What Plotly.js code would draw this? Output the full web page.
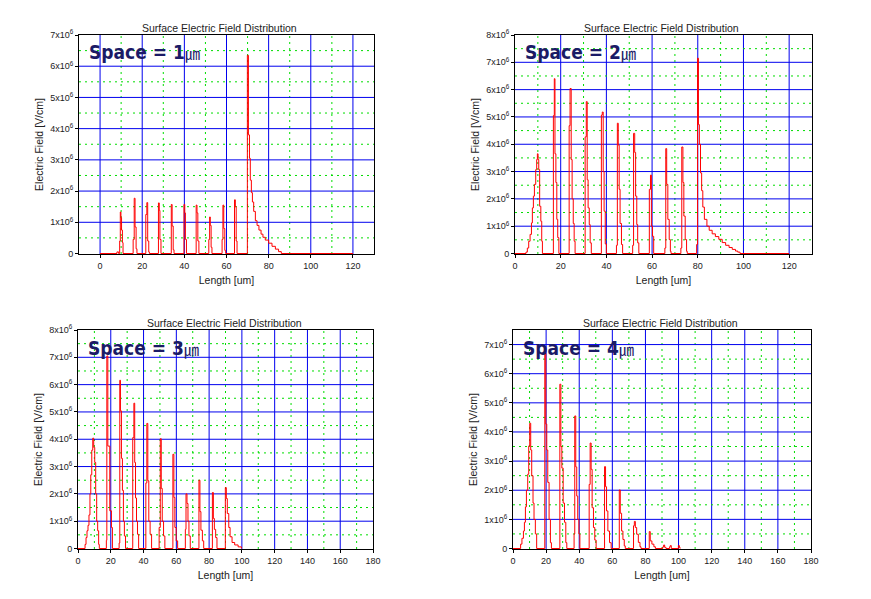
<!DOCTYPE html>
<html><head><meta charset="utf-8">
<script src="https://cdn.plot.ly/plotly-3.0.1.min.js"></script>
<style>html,body{margin:0;padding:0;background:#fff}#chart{width:871px;height:599px}</style>
</head><body><div id="chart"></div>
<script>
// ---------- DATA (Length in um, Electric field in units of 1e6 V/cm) ----------
const spaceLabels = ['1', '2', '3', '4'];
const chartTitle = 'Surface Electric Field Distribution';
const xTitle = 'Length [um]';
const yTitle = 'Electric Field [V/cm]';

// Space = 1 um
const s1x = [0, 8.0, 8.8, 9.3, 9.6, 9.9, 10.2, 10.6, 10.9,
  15.7, 16.2, 16.6, 17.1, 17.5,
  21.7, 22.2, 22.6, 23.1, 23.4,
  27.7, 28.1, 28.4, 28.9,
  33.8, 34.2, 34.7, 35.1,
  39.8, 40.2, 40.5, 41.0,
  45.6, 46.0, 46.4, 46.9,
  51.6, 52.0, 52.3, 52.7, 53.1,
  57.9, 58.3, 58.7, 59.2, 59.6,
  63.8, 64.2, 64.6, 65.0,
  69.9, 70.4, 70.9, 71.3, 71.8, 72.3, 72.9, 73.7, 74.5, 75.4, 76.4, 77.3, 78.4, 80.0, 81.6, 83.2, 84.7, 86.0, 120];
const s1y = [0, 0.05, 0, 0.4, 1.33, 1.15, 0.75, 0.35, 0,
  0.45, 1.77, 0.85, 0.15, 0,
  1.25, 1.63, 0.4, 0.05, 0,
  1.62, 1.38, 0.45, 0,
  1.57, 0.88, 0.12, 0,
  1.57, 1.3, 0.45, 0,
  1.55, 1.3, 0.4, 0,
  0.45, 1.17, 0.9, 0.2, 0,
  0.45, 1.55, 0.8, 0.1, 0,
  1.72, 1.5, 0.4, 0,
  6.35, 3.8, 3.05, 2.35, 1.95, 1.65, 1.35, 1.05, 0.9, 0.75, 0.62, 0.52, 0.43, 0.33, 0.23, 0.14, 0.06, 0, 0];

// Space = 2 um
const s2x = [0, 4.8, 5.4, 6.0, 6.6, 7.2, 7.6, 8.05, 8.5, 9.07, 9.5, 9.8, 10.1, 10.4, 10.8, 11.3, 11.7, 12.0,
  16.8, 17.2, 17.5, 17.9, 18.3, 18.7, 19.2,
  23.7, 24.1, 24.6, 25.0, 25.5, 25.9, 26.3,
  30.7, 31.2, 31.6, 32.0, 32.5, 32.9, 33.4,
  37.8, 38.2, 38.6, 39.0, 39.5, 40.0,
  44.4, 44.8, 45.2, 45.6, 46.0, 46.6, 47.1,
  51.5, 51.9, 52.4, 52.8, 53.3, 53.7, 54.2,
  58.8, 59.3, 59.7, 60.2, 60.7,
  65.6, 66.0, 66.4, 66.9, 67.5, 68.0, 68.3,
  72.6, 73.0, 73.5, 73.9, 74.5, 75.1, 75.4,
  79.5, 79.9, 80.3, 80.7, 81.2, 81.7, 82.2, 82.9, 84.0, 85.0, 86.3, 87.7, 89.2, 90.7, 92.2, 93.7, 95.1, 96.5, 97.5, 98.5, 120];
const s2y = [0, 0.05, 0.2, 0.45, 0.7, 1.12, 1.67, 2.1, 2.53, 3.07, 3.44, 3.65, 3.44, 3.07, 1.73, 1.18, 0.45, 0,
  5.05, 6.4, 3.65, 2.6, 1.25, 0.58, 0,
  4.68, 6.04, 3.44, 2.0, 1.1, 0.45, 0,
  4.27, 5.56, 2.7, 1.67, 1.06, 0.39, 0,
  5.07, 5.18, 3.0, 1.55, 0.35, 0,
  0.3, 4.77, 3.97, 2.35, 1.1, 0.33, 0,
  0.3, 4.4, 3.7, 2.1, 1.06, 0.39, 0,
  2.35, 2.87, 1.0, 0.63, 0,
  0.2, 3.84, 2.53, 1.25, 0.51, 0.08, 0,
  0.2, 3.9, 2.6, 1.37, 0.51, 0.08, 0,
  0.33, 7.15, 4.72, 4.0, 2.95, 2.3, 1.7, 1.25, 1.0, 0.85, 0.72, 0.62, 0.52, 0.4, 0.3, 0.22, 0.15, 0.09, 0.05, 0, 0];

// Space = 3 um
const s3x = [0, 4.3, 4.9, 5.5, 6.1, 6.7, 7.3, 7.8, 8.4, 9.0, 9.6, 10.2, 10.8, 11.4, 12.0, 12.6, 13.0,
  17.3, 17.6, 18.2, 19.4, 20.4, 21.0,
  25.1, 25.5, 25.9, 26.5, 27.1, 27.7, 28.3, 29.0,
  33.4, 34.1, 34.6, 35.1, 35.7, 36.3, 37.0,
  41.4, 42.0, 42.6, 43.2, 44.0, 44.9,
  49.5, 50.2, 50.8, 51.4, 52.2, 53.0,
  57.9, 58.5, 59.1, 59.9, 60.8,
  65.5, 65.9, 66.5, 67.1, 67.7, 68.5,
  73.8, 74.4, 75.0, 75.9, 76.7,
  82.0, 82.6, 83.2, 84.0, 84.8,
  89.9, 90.5, 91.1, 92.0, 92.8, 94.0, 95.6, 97.7, 99.7];
const s3y = [0, 0.15, 0.4, 0.65, 0.85, 1.23, 2.0, 2.7, 3.6, 4.04, 3.7, 3.15, 2.0, 1.0, 0.65, 0.15, 0,
  0.3, 7.05, 3.75, 1.38, 0.77, 0,
  0.2, 6.16, 5.04, 3.3, 2.13, 1.0, 0.46, 0,
  4.06, 5.32, 3.15, 1.85, 1.0, 0.52, 0,
  2.4, 4.58, 2.48, 1.0, 0.52, 0,
  0.77, 4.02, 2.2, 1.0, 0.46, 0,
  3.45, 1.87, 0.77, 0.28, 0,
  0.7, 2.0, 1.65, 1.0, 0.46, 0,
  2.5, 1.35, 0.67, 0.28, 0,
  2.05, 1.1, 0.7, 0.4, 0,
  2.23, 1.83, 1.28, 0.77, 0.43, 0.22, 0.13, 0.06, 0];

// Space = 4 um
const s4x = [0, 4.6, 5.4, 6.3, 6.9, 7.5, 8.1, 8.9, 9.5, 10.1, 10.7, 11.3, 12.1, 12.7, 13.5, 14.3,
  19.2, 19.8, 20.4, 21.0, 21.8, 22.6, 23.2,
  28.3, 28.9, 29.5, 30.3, 31.1, 31.9, 32.5,
  36.9, 37.3, 37.9, 38.5, 39.1, 39.8, 40.4,
  46.0, 46.6, 47.2, 47.8, 48.6, 49.4, 50.2,
  55.3, 55.9, 56.5, 57.3, 58.3, 59.3,
  64.2, 64.8, 65.6, 66.4, 67.2, 67.8,
  72.8, 73.3, 73.9, 74.7, 75.7, 76.7, 77.3,
  82.3, 82.9, 83.9, 85.1, 86.0,
  90.4, 91.0, 91.6, 92.4, 94.6, 95.0, 95.6, 99.9, 100.5, 101.0];
const s4y = [0, 0.15, 0.35, 0.6, 0.9, 1.43, 2.0, 2.55, 3.52, 4.3, 3.38, 2.5, 1.56, 1.0, 0.5, 0,
  6.7, 4.27, 3.38, 2.27, 1.0, 0.2, 0,
  5.64, 3.5, 2.76, 1.56, 0.9, 0.2, 0,
  0.5, 4.55, 2.8, 1.8, 1.0, 0.5, 0,
  2.2, 3.62, 2.72, 1.4, 0.72, 0.29, 0,
  2.81, 2.12, 1.29, 0.6, 0.2, 0,
  2.01, 1.21, 0.6, 0.31, 0.09, 0,
  0.78, 0.93, 0.72, 0.49, 0.21, 0.06, 0,
  0.58, 0.26, 0.15, 0.06, 0,
  0.05, 0.12, 0.04, 0, 0.06, 0.1, 0, 0.1, 0.03, 0];

// tick values / labels
const xTicksShort = [0, 20, 40, 60, 80, 100, 120];
const xTicksLong = [0, 20, 40, 60, 80, 100, 120, 140, 160, 180];
const yTickVals7 = [0, 1, 2, 3, 4, 5, 6, 7];
const yTickVals8 = [0, 1, 2, 3, 4, 5, 6, 7, 8];
const yTickText = ['0', '1x10<sup>6</sup>', '2x10<sup>6</sup>', '3x10<sup>6</sup>', '4x10<sup>6</sup>',
  '5x10<sup>6</sup>', '6x10<sup>6</sup>', '7x10<sup>6</sup>', '8x10<sup>6</sup>'];

// ---------- LAYOUT ----------
const W = 871, H = 599;
const E6 = 1e6;
const panels = [
  {x: s1x, y: s1y, box: [79, 374, 35, 254], xr: [-10, 130], yTop: 7,   xt: xTicksShort, yt: yTickVals7, title: [220, 27.5]},
  {x: s2x, y: s2y, box: [515, 812, 35, 254], xr: [0, 130],   yTop: 8,   xt: xTicksShort, yt: yTickVals8, title: [661, 27.5]},
  {x: s3x, y: s3y, box: [78, 373, 330, 549], xr: [0, 180],   yTop: 8,   xt: xTicksLong,  yt: yTickVals8, title: [225, 322.5]},
  {x: s4x, y: s4y, box: [513, 811, 330, 549], xr: [0, 180],  yTop: 7.5, xt: xTicksLong,  yt: yTickVals7, title: [660, 322.5]}
];

const FONT = 'Liberation Sans, Arial, sans-serif';
const BLUE = '#0000ee', GREEN = '#00dd00';
const traces = [];
const shapes = [];
const layout = {
  width: W, height: H,
  margin: {l: 0, r: 0, t: 0, b: 0},
  paper_bgcolor: '#fff', plot_bgcolor: '#fff',
  showlegend: false,
  font: {family: FONT, size: 9, color: '#222'},
  annotations: [], shapes: shapes
};

function steps(a, b, step) { const r = []; for (let v = a; v <= b + 1e-9; v += step) r.push(+v.toFixed(6)); return r; }

panels.forEach((p, i) => {
  const n = i === 0 ? '' : String(i + 1);
  const xa = 'x' + n, ya = 'y' + n;
  const [l, r, t, b] = p.box;
  const pxPerUnit = (b - t) / p.yTop;
  const yMin = -0.5 / pxPerUnit * E6;
  traces.push({
    type: 'scatter', mode: 'lines',
    x: p.x, y: p.y.map(v => v * E6),
    line: {color: '#ff0000', width: 1, shape: 'hv'},
    xaxis: xa, yaxis: ya, hoverinfo: 'skip'
  });
  // grid lines (major blue every 20 um / 1e6 V/cm, minor green dotted halfway)
  steps(-200, 400, 10).filter(v => v > p.xr[0] && v < p.xr[1]).forEach(v => {
    const major = v % 20 === 0;
    shapes.push({type: 'line', layer: 'below', xref: xa, yref: ya + ' domain', x0: v, x1: v, y0: 0, y1: 1,
      line: major ? {color: BLUE, width: 1} : {color: GREEN, width: 1, dash: '2px,4px'}});
  });
  steps(0.5, p.yTop, 0.5).filter(v => v < p.yTop).forEach(v => {
    const major = v % 1 === 0;
    shapes.push({type: 'line', layer: 'below', xref: xa + ' domain', yref: ya, x0: 0, x1: 1, y0: v * E6, y1: v * E6,
      line: major ? {color: BLUE, width: 1} : {color: GREEN, width: 1, dash: '2px,4px'}});
  });
  layout['xaxis' + n] = {
    domain: [l / W, r / W], anchor: ya,
    range: p.xr, showline: true, linecolor: '#000', linewidth: 1, mirror: true,
    tickmode: 'array', tickvals: p.xt, ticks: 'outside', ticklen: 3, tickcolor: '#000',
    showgrid: false, zeroline: false,
    tickfont: {family: FONT, size: 9, color: '#222'},
    title: {text: xTitle, standoff: 6, font: {family: FONT, size: 10.5, color: '#222'}}
  };
  layout['yaxis' + n] = {
    domain: [1 - b / H, 1 - t / H], anchor: xa,
    range: [yMin, p.yTop * E6], showline: true, linecolor: '#000', linewidth: 1, mirror: true,
    tickmode: 'array', tickvals: p.yt.map(v => v * E6), ticktext: yTickText.slice(0, p.yt.length),
    ticks: 'outside', ticklen: 3, tickcolor: '#000',
    showgrid: false, zeroline: false,
    tickfont: {family: FONT, size: 9, color: '#222'},
    title: {text: yTitle, standoff: 4, font: {family: FONT, size: 10.5, color: '#222'}}
  };
  layout.annotations.push({
    xref: 'paper', yref: 'paper', x: p.title[0] / W, y: 1 - p.title[1] / H,
    xanchor: 'center', yanchor: 'middle', showarrow: false,
    text: chartTitle, font: {family: FONT, size: 10.5, color: '#222'}
  });
  layout.annotations.push({
    xref: 'paper', yref: 'paper', x: (l + 8) / W, y: 1 - (t + 4.5) / H,
    xanchor: 'left', yanchor: 'top', showarrow: false,
    text: 'Space = ' + spaceLabels[i] + '<span style="font-family:Noto Sans CJK KR;font-size:15px;font-weight:normal">㎛</span>',
    font: {family: 'DejaVu Sans Condensed, DejaVu Sans, sans-serif', size: 19, weight: 'bold', color: '#1b1b66'}
  });
});

Plotly.newPlot('chart', traces, layout, {displayModeBar: false, staticPlot: true});
</script>
</body></html>
